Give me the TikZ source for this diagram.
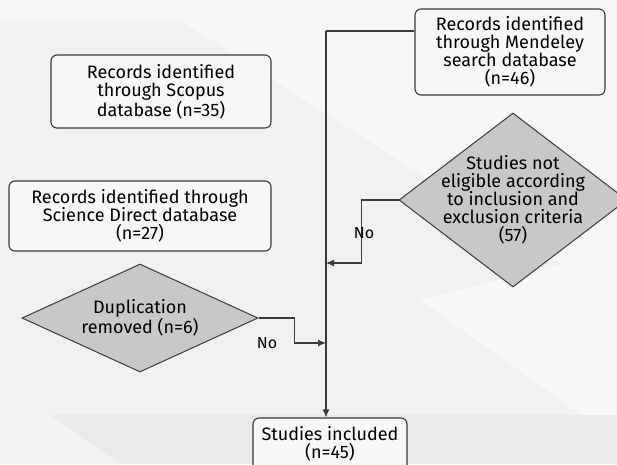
\documentclass[tikz,border=0pt]{standalone}
\usepackage{fontspec}
\setmainfont{Fira Sans}
\usetikzlibrary{calc,positioning,shapes.geometric,arrows.meta}
\definecolor{bgbase}{HTML}{F1F1F1}
\definecolor{bglight}{HTML}{F7F7F7}
\definecolor{bgdark}{HTML}{EAEAEA}
\definecolor{edgegray}{HTML}{3A3A3A}
\definecolor{decfill}{HTML}{C9C8C6}
\tikzset{flowline/.style={draw=edgegray,line width=1.1pt},
flowarrow/.style={flowline,-{Latex[length=8pt,width=7pt]}}}

\begin{document}
\begin{tikzpicture}[x=1pt,y=-1pt,font=\fontsize{18}{18}\selectfont]

\tikzset{recbox/.style={draw=edgegray,line width=1.1pt,fill=bglight,rounded corners=6pt,align=center,inner sep=0pt},
decision/.style={draw=edgegray,line width=1pt,fill=decfill,shape=diamond,align=center,inner sep=0pt},
nolabel/.style={font=\fontsize{16}{17}\selectfont,inner sep=1pt}}

% Background
\useasboundingbox (0,0) rectangle (617,464);
\fill[bgbase] (0,0) rectangle (617,464);
\fill[bglight] (0,0) rectangle (617,20);
\fill[bglight] (180,20) -- (617,20) -- (617,300) -- cycle;
\fill[bglight] (420,300) -- (617,250) -- (617,440) -- cycle;
\fill[bgdark] (0,415) rectangle (617,464);
\fill[bglight!60!bgdark] (0,380) -- (120,464) -- (0,464) -- cycle;

% Records
\node[recbox,minimum width=190pt,minimum height=86pt] (mendeley) at (510,52)
  {Records identified\\ through Mendeley\\ search database\\ (n=46)};
\node[recbox,minimum width=220pt,minimum height=73pt] (scopus) at (161,91.5)
  {Records identified\\ through Scopus\\ database (n=35)};
\node[recbox,minimum width=262pt,minimum height=70pt] (sciencedirect) at (140,216)
  {Records identified through\\ Science Direct database\\ (n=27)};

% Decisions
\node[decision,minimum width=228pt,minimum height=174pt,inner sep=-30pt] (noteligible) at (513,200)
  {Studies not\\ eligible according\\ to inclusion and\\ exclusion criteria\\ (57)};
\node[decision,minimum width=236pt,minimum height=108pt,shape aspect=2.2,inner sep=-10pt] (duplication) at (140,318)
  {Duplication\\ removed (n=6)};

% Result
\node[recbox,minimum width=154pt,minimum height=56pt,text depth=8pt] (included) at (330,446)
  {Studies included\\ (n=45)};

% Trunk
\coordinate (trunktop) at (326,31);
\coordinate (mergeA) at (326,263);
\coordinate (mergeB) at (326,343);
\draw[flowline] (mendeley.west |- trunktop) -- (trunktop);
\draw[flowarrow] (trunktop) -- (trunktop |- included.north);
\draw[flowline] ($(scopus.east)+(0,4.5)$) -- ($(scopus.east)+(0,4.5)$ -| trunktop);
\draw[flowline] ($(sciencedirect.east)+(0,7)$) -- ($(sciencedirect.east)+(0,7)$ -| trunktop);

% Exclusions
\draw[flowarrow] (noteligible.west) -- ++(-37,0) |- (mergeA);
\draw[flowarrow] (duplication.east) -- ++(36,0) |- (mergeB);
\node[nolabel] (noA) at (364,233) {No};
\node[nolabel] (noB) at (267,343) {No};

\end{tikzpicture}
\end{document}
